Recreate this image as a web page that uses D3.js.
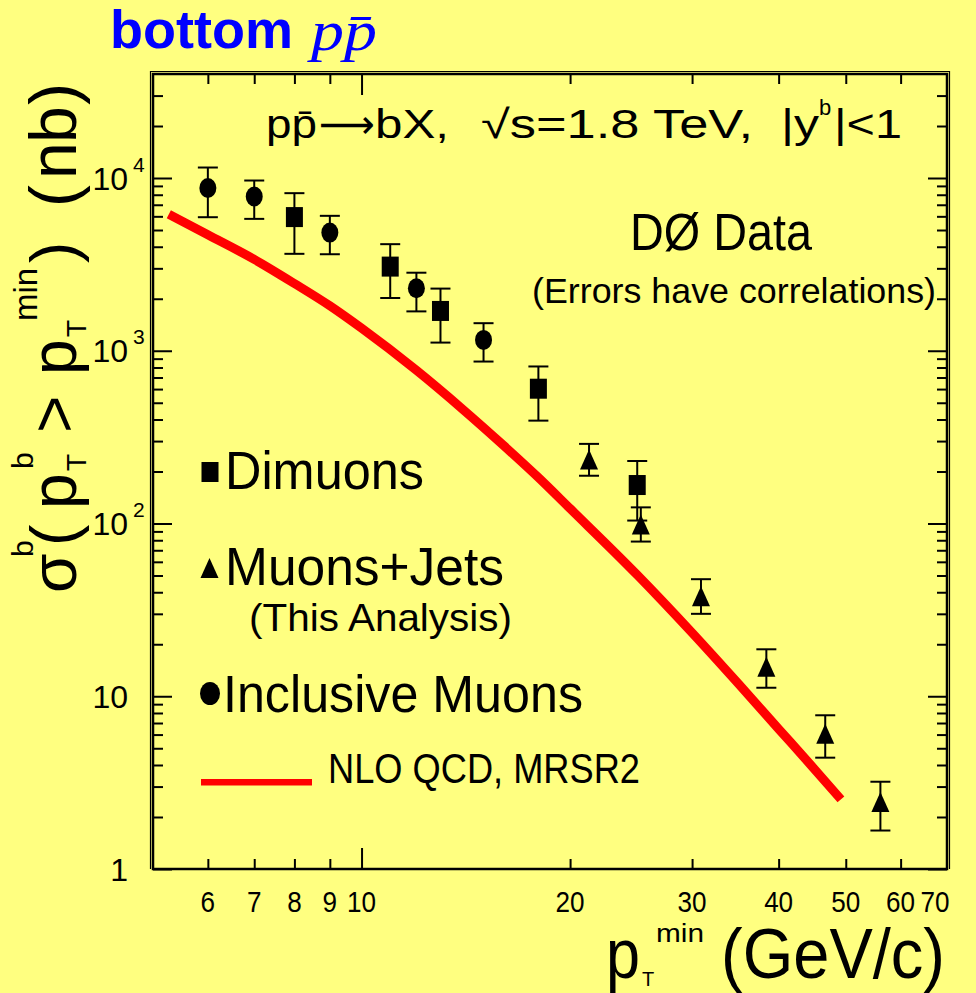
<!DOCTYPE html>
<html>
<head>
<meta charset="utf-8">
<script src="https://cdn.jsdelivr.net/npm/d3@7"></script>
<style>
  html, body { margin: 0; padding: 0; background: #ffff80; }
  svg { display: block; }
</style>
</head>
<body>
<svg id="chart" width="976" height="993"></svg>
<script>
// ---- Data: b-quark cross section sigma(pT^b > pT^min) in nb ----
const dimuonPt    = [8, 11, 13, 18, 25];
const dimuonSigma = [5940, 3070, 1700, 603, 167];
const dimuonHi    = [8170, 4140, 2290, 811, 230];
const dimuonLo    = [3640, 2020, 1115, 394, 104];

const muJetPt    = [21.3, 25.3, 30.9, 38.4, 46.7, 56.1];
const muJetSigma = [235, 98.8, 37.9, 14.8, 6.07, 2.44];
const muJetHi    = [289, 124, 47.6, 18.7, 7.76, 3.20];
const muJetLo    = [189, 78.6, 30.0, 11.2, 4.41, 1.67];

const incMuPt    = [6, 7, 9, 12, 15];
const incMuSigma = [8750, 7820, 4830, 2300, 1156];
const incMuHi    = [11500, 9670, 6040, 2830, 1444];
const incMuLo    = [5930, 5800, 3620, 1690, 866];

// NLO QCD prediction (MRSR2)
const nloPt    = [5.27, 6, 7, 8, 9, 10, 12, 14, 16, 18, 20, 25, 30, 35, 40, 45, 49.2];
const nloSigma = [6165, 4690, 3380, 2450, 1820, 1350, 770, 458, 285, 184.5, 122, 50.4, 23.3, 11.8, 6.47, 3.81, 2.53];

// Axes
const xDomain = [5, 70];
const yDomain = [1, 40000];
const xMajorTicks = [10];
const xMinorTicks = [6, 7, 8, 9, 20, 30, 40, 50, 60];
const xTickLabels = [6, 7, 8, 9, 10, 20, 30, 40, 50, 60, 70];
const yMajorTicks = [1, 10, 100, 1000, 10000];
const yTickBase   = ["1", "10", "10", "10", "10"];
const yTickExp    = ["", "", "2", "3", "4"];

// ---- Layout ----
const W = 976, H = 993;
const plot = { left: 153, right: 947, top: 74, bottom: 869 };
const SANS = "'Liberation Sans', Arial, Helvetica, sans-serif";
const SERIF = "'Liberation Serif', 'Times New Roman', serif";

const svg = d3.select("#chart");
svg.append("rect").attr("width", W).attr("height", H).attr("fill", "#ffff80");

const x = d3.scaleLog().domain(xDomain).range([plot.left, plot.right]);
const y = d3.scaleLog().domain(yDomain).range([plot.bottom, plot.top]);

const yMinorTicks = [];
for (let dec = 1; dec <= 10000; dec *= 10)
  for (let k = 2; k <= 9; k++) {
    const v = k * dec;
    if (v < yDomain[1]) yMinorTicks.push(v);
  }

// text helper; optionally fits a run of text to a given advance length
function label(g, o) {
  const t = g.append("text")
    .attr("x", o.x).attr("y", o.y)
    .attr("font-family", o.family || SANS)
    .attr("font-size", o.size)
    .attr("font-weight", o.weight || "normal")
    .attr("font-style", o.style || "normal")
    .attr("fill", o.fill || "#000")
    .attr("text-anchor", o.anchor || "start")
    .text(o.text);
  if (o.len) t.attr("textLength", o.len).attr("lengthAdjust", "spacingAndGlyphs");
  return t;
}

// ---- Ticks (inward, on all four sides) ----
const axes = svg.append("g");
function ticksX(vals, len) {
  axes.append("g").call(d3.axisBottom(x).tickValues(vals).tickSize(-len).tickFormat(""))
    .attr("transform", `translate(0,${plot.bottom})`).call(g => g.select(".domain").remove());
  axes.append("g").call(d3.axisTop(x).tickValues(vals).tickSize(-len).tickFormat(""))
    .attr("transform", `translate(0,${plot.top})`).call(g => g.select(".domain").remove());
}
function ticksY(vals, len) {
  axes.append("g").call(d3.axisLeft(y).tickValues(vals).tickSize(-len).tickFormat(""))
    .attr("transform", `translate(${plot.left},0)`).call(g => g.select(".domain").remove());
  axes.append("g").call(d3.axisRight(y).tickValues(vals).tickSize(-len).tickFormat(""))
    .attr("transform", `translate(${plot.right},0)`).call(g => g.select(".domain").remove());
}
ticksX(xMajorTicks, 21);
ticksX(xMinorTicks, 10);
ticksY(yMajorTicks, 19);
ticksY(yMinorTicks, 10);
axes.selectAll("line").attr("stroke", "#000").attr("stroke-width", 2);

// Frame: heavy inner border with a thin outer rule on top/left/right
svg.append("rect")
  .attr("x", plot.left).attr("y", plot.top)
  .attr("width", plot.right - plot.left).attr("height", plot.bottom - plot.top)
  .attr("fill", "none").attr("stroke", "#000").attr("stroke-width", 2.5);
svg.append("path")
  .attr("d", `M${plot.left - 2.5},${plot.bottom} V${plot.top - 2.5} H${plot.right + 2.5} V${plot.bottom}`)
  .attr("fill", "none").attr("stroke", "#000").attr("stroke-width", 1.2);

// ---- Tick labels ----
const xl = svg.append("g");
xl.selectAll("text").data(xTickLabels).join("text")
  .attr("x", d => Math.min(x(d), plot.right - 12))
  .attr("y", 912)
  .attr("text-anchor", "middle")
  .attr("font-family", SANS).attr("font-size", 30)
  .attr("textLength", d => String(d).length * 14.5)
  .attr("lengthAdjust", "spacingAndGlyphs")
  .text(d => d);

const yl = svg.append("g");
yl.selectAll("text.base").data(yMajorTicks).join("text").attr("class", "base")
  .attr("x", 128).attr("y", d => y(d) + 11.5)
  .attr("text-anchor", "end")
  .attr("font-family", SANS).attr("font-size", 32)
  .text((d, i) => yTickBase[i]);
yl.selectAll("text.exp").data(yMajorTicks).join("text").attr("class", "exp")
  .attr("x", 133).attr("y", d => y(d) - 6.5)
  .attr("font-family", SANS).attr("font-size", 21)
  .text((d, i) => yTickExp[i]);

// ---- NLO QCD curve ----
const line = d3.line().x((d, i) => x(nloPt[i])).y(d => y(d)).curve(d3.curveMonotoneX);
svg.append("path")
  .attr("d", line(nloSigma))
  .attr("fill", "none").attr("stroke", "#ff0000").attr("stroke-width", 9)
  .attr("stroke-linecap", "butt").attr("stroke-linejoin", "round");

// ---- Error bars and markers ----
function errorBars(pt, hi, lo) {
  const g = svg.append("g").attr("stroke", "#000").attr("stroke-width", 2);
  pt.forEach((p, i) => {
    const cx = x(p);
    g.append("line").attr("x1", cx).attr("x2", cx).attr("y1", y(hi[i])).attr("y2", y(lo[i]));
    g.append("line").attr("x1", cx - 10).attr("x2", cx + 10).attr("y1", y(hi[i])).attr("y2", y(hi[i]));
    g.append("line").attr("x1", cx - 10).attr("x2", cx + 10).attr("y1", y(lo[i])).attr("y2", y(lo[i]));
  });
}
function squareAt(g, cx, cy) {
  g.append("rect").attr("x", cx - 8.5).attr("y", cy - 10).attr("width", 17).attr("height", 20).attr("fill", "#000");
}
function triangleAt(g, cx, cy) {
  g.append("path").attr("d", `M${cx},${cy - 10} L${cx + 9},${cy + 10} L${cx - 9},${cy + 10} Z`).attr("fill", "#000");
}
function circleAt(g, cx, cy, rx = 8.5, ry = 10) {
  g.append("ellipse").attr("cx", cx).attr("cy", cy).attr("rx", rx).attr("ry", ry).attr("fill", "#000");
}

errorBars(incMuPt, incMuHi, incMuLo);
errorBars(dimuonPt, dimuonHi, dimuonLo);
errorBars(muJetPt, muJetHi, muJetLo);
const marks = svg.append("g");
incMuPt.forEach((p, i) => circleAt(marks, x(p), y(incMuSigma[i])));
dimuonPt.forEach((p, i) => squareAt(marks, x(p), y(dimuonSigma[i])));
muJetPt.forEach((p, i) => triangleAt(marks, x(p), y(muJetSigma[i])));

// ---- Legend ----
const lg = svg.append("g");
squareAt(lg, 210, 472);
label(lg, { x: 225, y: 489, text: "Dimuons", size: 53, len: 199 });
triangleAt(lg, 209.5, 568);
label(lg, { x: 225, y: 585, text: "Muons+Jets", size: 53, len: 279 });
label(lg, { x: 249, y: 631, text: "(This Analysis)", size: 39, len: 263 });
circleAt(lg, 210, 693.5, 10, 11.5);
label(lg, { x: 223, y: 711.5, text: "Inclusive Muons", size: 51, len: 360 });
lg.append("line").attr("x1", 201).attr("x2", 312).attr("y1", 782.3).attr("y2", 782.3)
  .attr("stroke", "#ff0000").attr("stroke-width", 6.5);
label(lg, { x: 328, y: 783, text: "NLO QCD, MRSR2", size: 42, len: 312 });

// ---- Annotations ----
const an = svg.append("g");
label(an, { x: 266, y: 138, text: "pp\u0304", size: 40, len: 51 });
label(an, { x: 319, y: 138, text: "\u27F6", size: 40, len: 56, family: "'DejaVu Sans', sans-serif" });
label(an, { x: 375, y: 138, text: "bX,", size: 40, len: 74 });
label(an, { x: 481, y: 138, text: "\u221As=1.8 TeV,", size: 40, len: 272 });
label(an, { x: 781, y: 138, text: "|y", size: 40, len: 38 });
label(an, { x: 819, y: 115, text: "b", size: 22 });
label(an, { x: 834, y: 138, text: "|<1", size: 40, len: 68 });

label(an, { x: 630, y: 250, text: "D\u00D8 Data", size: 51, len: 182 });
label(an, { x: 532, y: 303, text: "(Errors have correlations)", size: 35, len: 404 });

// ---- Title ----
label(svg, { x: 110, y: 48, text: "bottom", size: 54, weight: "bold", fill: "#0000ff", len: 183 });
label(svg, { x: 311, y: 50, text: "pp\u0304", size: 56, style: "italic", family: SERIF, fill: "#0000ff", len: 66 });

// ---- Axis titles ----
const xt = svg.append("g");
label(xt, { x: 606, y: 978, text: "p", size: 70, len: 34 });
label(xt, { x: 642, y: 986, text: "T", size: 20 });
label(xt, { x: 656, y: 942, text: "min", size: 25, len: 48 });
label(xt, { x: 721, y: 978, text: "(GeV/c)", size: 70, len: 224 });

const yTitleParts = [
  { t: "\u03C3", s: 0,   dy: 0,   size: 64 },
  { t: "b",      s: 36,  dy: -43, size: 30 },
  { t: "(",      s: 47,  dy: 0,   size: 64 },
  { t: "p",      s: 84,  dy: 0,   size: 64 },
  { t: "T",      s: 122, dy: 10,  size: 28 },
  { t: "b",      s: 124, dy: -43, size: 30 },
  { t: ">",      s: 160, dy: 0,   size: 64 },
  { t: "p",      s: 218, dy: 0,   size: 64 },
  { t: "T",      s: 256, dy: 10,  size: 28 },
  { t: "min",    s: 272, dy: -39, size: 33 },
  { t: ")",      s: 330, dy: 0,   size: 64 },
  { t: "(",      s: 386, dy: 0,   size: 66 },
  { t: "n",      s: 414, dy: 0,   size: 66 },
  { t: "b",      s: 450, dy: 0,   size: 66 },
  { t: ")",      s: 488, dy: 0,   size: 66 }
];
const yt = svg.append("g").attr("transform", "translate(76,593) rotate(-90)");
yTitleParts.forEach(p => label(yt, { x: p.s, y: p.dy, text: p.t, size: p.size }));
</script>
</body>
</html>
